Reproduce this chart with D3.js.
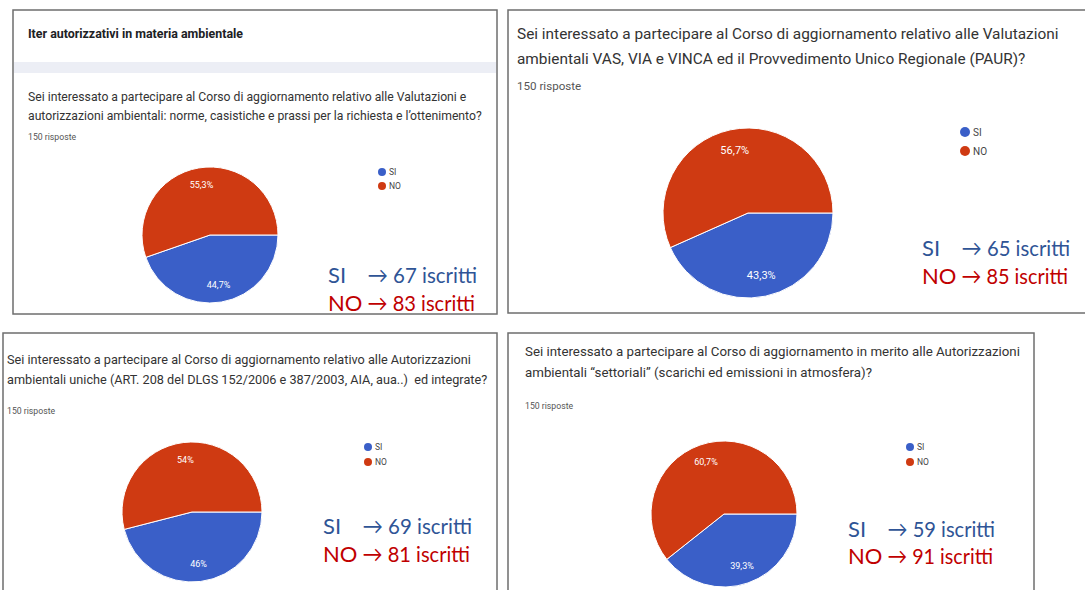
<!DOCTYPE html>
<html>
<head>
<meta charset="utf-8">
<script src="https://cdn.jsdelivr.net/npm/d3@7"></script>
<style>
  body { margin: 0; background: #fff; }
  svg { display: block; }
</style>
</head>
<body>
<div id="container"></div>
<script>
/* DATA */
const categories = ["SI", "NO"];
const siCounts = [67, 65, 69, 59];
const noCounts = [83, 85, 81, 91];
const totalAnswers = [150, 150, 150, 150];
const sectionTitle = "Iter autorizzativi in materia ambientale";
const questionLines = [
  ["Sei interessato a partecipare al Corso di aggiornamento relativo alle Valutazioni e",
   "autorizzazioni ambientali: norme, casistiche e prassi per la richiesta e l’ottenimento?"],
  ["Sei interessato a partecipare al Corso di aggiornamento relativo alle Valutazioni",
   "ambientali VAS, VIA e VINCA ed il Provvedimento Unico Regionale (PAUR)?"],
  ["Sei interessato a partecipare al Corso di aggiornamento relativo alle Autorizzazioni",
   "ambientali uniche (ART. 208 del DLGS 152/2006 e 387/2003, AIA, aua..)  ed integrate?"],
  ["Sei interessato a partecipare al Corso di aggiornamento in merito alle Autorizzazioni",
   "ambientali “settoriali” (scarichi ed emissioni in atmosfera)?"]
];

/* LAYOUT OF THE FOUR SCREENSHOT PANELS */
const panels = [
  {box: [13, 10, 497, 314], tx: 28, qy: [97, 116], qs: 12.2, ry: 137, rs: 8.7,
   cx: 210, cy: 235, r: 68, pl: 9, lx: 382, ly: [172, 186], dr: 4, ls: 8.5,
   bx: 328, by: [274, 302], bw: [149, 147]},
  {box: [508, 10, 1095, 313], tx: 517, qy: [34, 59], qs: 15.4, ry: 86, rs: 11.6,
   cx: 748, cy: 213, r: 85, pl: 11, lx: 965, ly: [132, 151], dr: 5, ls: 10,
   bx: 922, by: [247, 275], bw: [148, 146]},
  {box: [3, 333, 497, 600], tx: 7, qy: [359, 379], qs: 12.7, ry: 411, rs: 8.7,
   cx: 192, cy: 512, r: 70, pl: 9, lx: 368, ly: [447, 462], dr: 4, ls: 8.5,
   bx: 323, by: [525, 553], bw: [149, 147]},
  {box: [508, 333, 1034, 600], tx: 525, qy: [351, 372], qs: 13.3, ry: 406, rs: 8.7,
   cx: 724, cy: 514, r: 73, pl: 9, lx: 910, ly: [447, 462], dr: 4, ls: 8.5,
   bx: 848, by: [528, 555], bw: [147, 145]}
];

const width = 1085, height = 590;
const color = d3.scaleOrdinal().domain(categories).range(["#3a5fc8", "#cf3a12"]);
const textColor = d3.scaleOrdinal().domain(categories).range(["#2f5496", "#c00000"]);
const itFormat = d3.formatLocale({decimal: ",", thousands: ".", grouping: [3], currency: ["", " €"]}).format(".1~%");

const svg = d3.select("#container").append("svg")
    .attr("width", width)
    .attr("height", height);

const pie = d3.pie().sort(null).value(d => d.value)
    .startAngle(Math.PI / 2).endAngle(Math.PI / 2 + 2 * Math.PI);

panels.forEach((p, i) => {
  const g = svg.append("g");
  const [x0, y0, x1, y1] = p.box;

  /* PANEL FRAME */
  g.append("rect")
      .attr("x", x0).attr("y", y0)
      .attr("width", x1 - x0).attr("height", y1 - y0)
      .attr("fill", "#fff")
      .attr("stroke", "#6e6e6e")
      .attr("stroke-width", 1.5);

  if (i === 0) {
    g.append("text")
        .attr("x", p.tx).attr("y", 33)
        .attr("dominant-baseline", "central")
        .style("font-family", "Roboto, sans-serif")
        .style("font-size", "12.4px")
        .style("font-weight", "bold")
        .style("fill", "#202124")
        .text(sectionTitle);
    g.append("rect")
        .attr("x", x0 + 1).attr("y", 62)
        .attr("width", x1 - x0 - 2).attr("height", 11)
        .attr("fill", "#eceef5");
  }

  /* QUESTION */
  questionLines[i].forEach((line, k) => {
    g.append("text")
        .attr("x", p.tx).attr("y", p.qy[k])
        .attr("dominant-baseline", "central")
        .style("font-family", "Roboto, sans-serif")
        .style("font-size", p.qs + "px")
        .style("fill", "#333")
        .style("white-space", "pre")
        .text(line);
  });

  g.append("text")
      .attr("x", p.tx).attr("y", p.ry)
      .attr("dominant-baseline", "central")
      .style("font-family", "Roboto, sans-serif")
      .style("font-size", p.rs + "px")
      .style("fill", "#555")
      .text(totalAnswers[i] + " risposte");

  /* PIE */
  const values = [
    {key: categories[0], value: siCounts[i]},
    {key: categories[1], value: noCounts[i]}
  ];
  const arcs = pie(values);
  const arc = d3.arc().innerRadius(0).outerRadius(p.r);
  const labelArc = d3.arc().innerRadius(p.r * 0.75).outerRadius(p.r * 0.75);
  const pg = g.append("g").attr("transform", `translate(${p.cx},${p.cy})`);

  pg.selectAll("path")
    .data(arcs)
    .join("path")
      .attr("d", arc)
      .attr("fill", d => color(d.data.key))
      .attr("stroke", "#fff")
      .attr("stroke-width", 1);

  pg.selectAll("text")
    .data(arcs)
    .join("text")
      .attr("transform", d => `translate(${labelArc.centroid(d)})`)
      .attr("text-anchor", "middle")
      .attr("dominant-baseline", "central")
      .style("font-family", "Roboto, sans-serif")
      .style("font-size", p.pl + "px")
      .style("fill", "#fff")
      .text(d => itFormat(d.data.value / totalAnswers[i]));

  /* LEGEND */
  const leg = g.selectAll(".leg")
    .data(categories)
    .join("g")
      .attr("transform", (d, k) => `translate(${p.lx},${p.ly[k]})`);
  leg.append("circle")
      .attr("r", p.dr)
      .attr("fill", d => color(d));
  leg.append("text")
      .attr("x", p.dr + 3)
      .attr("dominant-baseline", "central")
      .style("font-family", "Roboto, sans-serif")
      .style("font-size", p.ls + "px")
      .style("fill", "#444")
      .text(d => d);

  /* SUBSCRIBERS NOTE: arrows line up after the wider label */
  const counts = [siCounts[i], noCounts[i]];
  const rows = categories.map((c, k) => g.append("g")
      .attr("transform", `translate(${p.bx},${p.by[k]})`)
      .style("font-family", "Lato, 'Open Sans', sans-serif")
      .style("font-size", "22px")
      .style("fill", textColor(c)));
  const labels = rows.map((t, k) => t.append("text")
      .attr("dominant-baseline", "central")
      .text(categories[k]));
  const arrowX = d3.max(labels, l => l.node().getComputedTextLength()) + 5;
  rows.forEach((t, k) => {
    t.append("text")
        .attr("x", arrowX)
        .attr("dominant-baseline", "central")
        .attr("textLength", p.bw[k] - arrowX)
        .attr("lengthAdjust", "spacingAndGlyphs")
        .text("\u2192 " + counts[k] + " iscritti");
  });
});
</script>
</body>
</html>
